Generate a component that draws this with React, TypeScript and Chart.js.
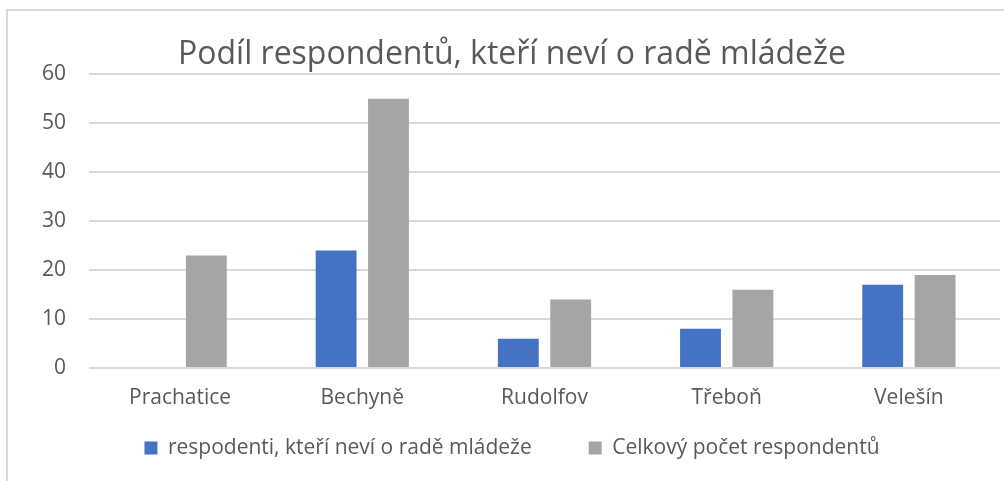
import React, { useEffect, useRef } from "react";
import { Chart, registerables } from "chart.js";

Chart.register(...registerables);

const categories = ["Prachatice", "Bechyně", "Rudolfov", "Třeboň", "Velešín"];
const seriesUnaware = [0, 24, 6, 8, 17];
const seriesTotal = [23, 55, 14, 16, 19];
const seriesNames = ["respodenti, kteří neví o radě mládeže", "Celkový počet respondentů"];
const titleText = "Podíl respondentů, kteří neví o radě mládeže";
const yMin = 0;
const yMax = 60;
const yStep = 10;

const FONT = "'Open Sans', sans-serif";
const TEXT = "#595959";
const GRID = "#d9d9d9";
const W = 1024;
const H = 481;

const borderPlugin = {
  id: "frameBorder",
  beforeDraw(chart: any) {
    const ctx = chart.ctx;
    ctx.save();
    ctx.fillStyle = "#ffffff";
    ctx.fillRect(0, 0, chart.width, chart.height);
    ctx.strokeStyle = GRID;
    ctx.lineWidth = 2;
    ctx.beginPath();
    ctx.moveTo(7, chart.height);
    ctx.lineTo(7, 10);
    ctx.lineTo(chart.width, 10);
    ctx.stroke();
    ctx.restore();
  },
};

export default function App() {
  const ref = useRef<HTMLCanvasElement | null>(null);
  useEffect(() => {
    if (!ref.current) return;
    const chart = new Chart(ref.current, {
      type: "bar",
      data: {
        labels: categories,
        datasets: [
          {
            label: seriesNames[0],
            data: seriesUnaware,
            backgroundColor: "#4472C4",
            categoryPercentage: 0.575,
            barPercentage: 0.78,
          },
          {
            label: seriesNames[1],
            data: seriesTotal,
            backgroundColor: "#A5A5A5",
            categoryPercentage: 0.575,
            barPercentage: 0.78,
          },
        ],
      },
      options: {
        responsive: false,
        animation: false,
        layout: { padding: { left: 0, right: 0, top: 0, bottom: 12.5 } },
        plugins: {
          title: {
            display: true,
            text: titleText,
            color: TEXT,
            font: { family: FONT, size: 32, weight: "normal" },
            padding: { top: 36, bottom: 0 },
          },
          legend: {
            display: true,
            position: "bottom",
            labels: {
              color: TEXT,
              font: { family: FONT, size: 21 },
              boxWidth: 13,
              boxHeight: 13,
              padding: 57,
            },
          },
          tooltip: { enabled: false },
        },
        scales: {
          x: {
            afterFit(scale: any) {
              scale.height = 12.5;
              scale._computeLabelArea = () => undefined;
            },
            grid: { display: false, drawTicks: false },
            border: { display: false },
            ticks: { color: TEXT, font: { family: FONT, size: 21 }, padding: 17.4 },
          },
          y: {
            min: yMin,
            max: yMax,
            afterFit(scale: any) {
              scale.width = 89;
            },
            grid: { color: GRID, lineWidth: 2, drawTicks: false },
            border: { display: false },
            ticks: {
              stepSize: yStep,
              color: TEXT,
              font: { family: FONT, size: 21 },
              padding: 23,
            },
          },
          yRightSpace: {
            type: "linear",
            position: "right",
            display: true,
            afterFit(scale: any) {
              scale.width = 24;
            },
            grid: { display: false, drawTicks: false },
            border: { display: false },
            ticks: { display: false },
          },
        },
      },
      plugins: [borderPlugin],
    });
    return () => chart.destroy();
  }, []);
  return (
    <div style={{ position: "fixed", left: 0, top: 0, width: 1004, height: H, overflow: "hidden" }}>
      <canvas ref={ref} width={W} height={H} style={{ display: "block", width: W, height: H }} />
    </div>
  );
}
